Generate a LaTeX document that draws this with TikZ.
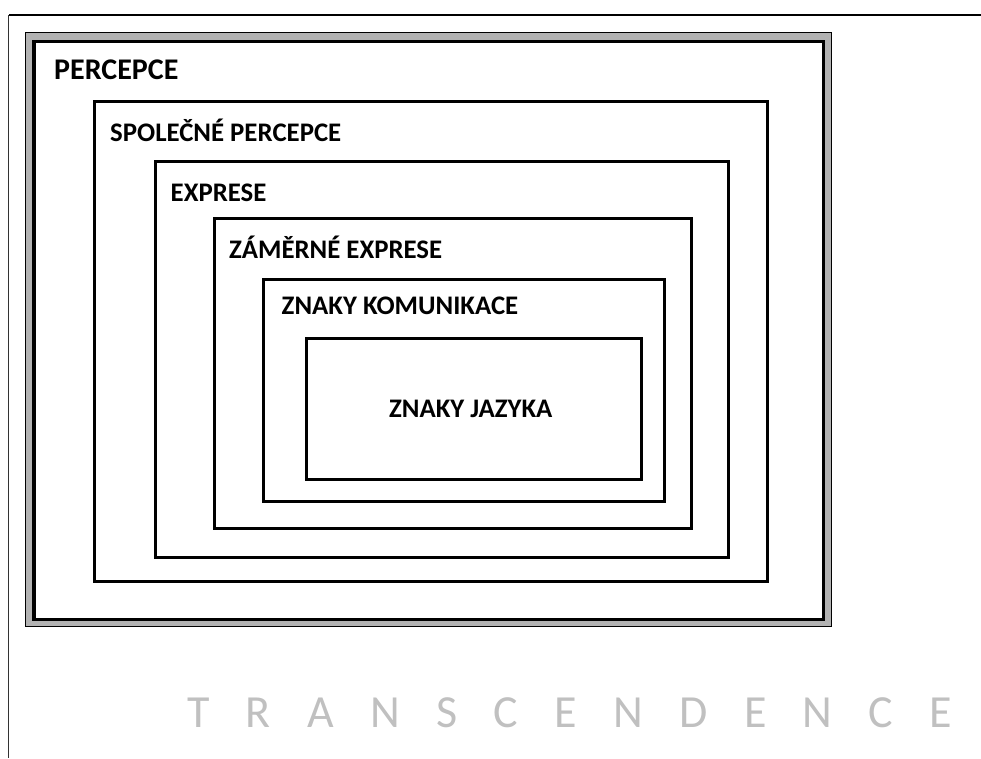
\documentclass[tikz,border=0pt]{standalone}
\usepackage{fontspec}
\setmainfont{Carlito}
\newfontfamily\transfont[LetterSpace=79]{Carlito}
\definecolor{bandgray}{RGB}{178,178,178}
\definecolor{transgray}{RGB}{192,192,192}
\tikzset{
  layerbox/.style={draw=black, line width=3pt},
  layerlabel/.style={font=\fontsize{26.8}{30}\selectfont\bfseries, inner sep=0pt, anchor=base west},
  toplabel/.style={layerlabel, font=\fontsize{30}{34}\selectfont\bfseries},
  transtext/.style={font=\fontsize{46}{50}\selectfont\transfont, text=transgray, inner sep=0pt, anchor=base west}
}
\begin{document}
\begin{tikzpicture}[x=1pt, y=-1pt]
  \useasboundingbox (0,0) rectangle (981,758);
  % open page frame: top and left rules
  \coordinate (frameTR) at (981,15);
  \coordinate (frameTL) at (8.5,15);
  \coordinate (frameBL) at (8.5,758);
  \draw[line width=1.6pt] (frameTR) -- (frameTL);
  \draw[line width=1.2pt, black!80] (frameTL) -- (frameBL);
  % triple-line border of the outermost layer
  \draw[fill=bandgray, line width=1pt] (25.5,32.5) rectangle (831.5,626.5);
  \draw[fill=white, line width=3.5pt] (33.8,41.5) rectangle (823.3,619.3);
  % nested layers
  \draw[layerbox] (94.7,101) rectangle (767.3,581.5);
  \draw[layerbox] (155,161) rectangle (728.3,557);
  \draw[layerbox] (214.3,218.3) rectangle (691,528.3);
  \draw[layerbox] (263.3,279.3) rectangle (664.3,501.3);
  \draw[layerbox] (306,338.3) rectangle (641.7,479.3);
  % labels
  \node[toplabel] (percepce) at (54,79) {PERCEPCE};
  \node[layerlabel] (spolecne) at (110,141) {SPOLEČNÉ PERCEPCE};
  \node[layerlabel] (exprese) at (170.5,201) {EXPRESE};
  \node[layerlabel] (zamerne) at (229,258) {ZÁMĚRNÉ EXPRESE};
  \node[layerlabel] (komunikace) at (281.5,314) {ZNAKY KOMUNIKACE};
  \node[layerlabel, anchor=base] (jazyka) at (470.7,417) {ZNAKY JAZYKA};
  \node[transtext] (transcendence) at (187,727) {TRANSCENDENCE};
\end{tikzpicture}
\end{document}
